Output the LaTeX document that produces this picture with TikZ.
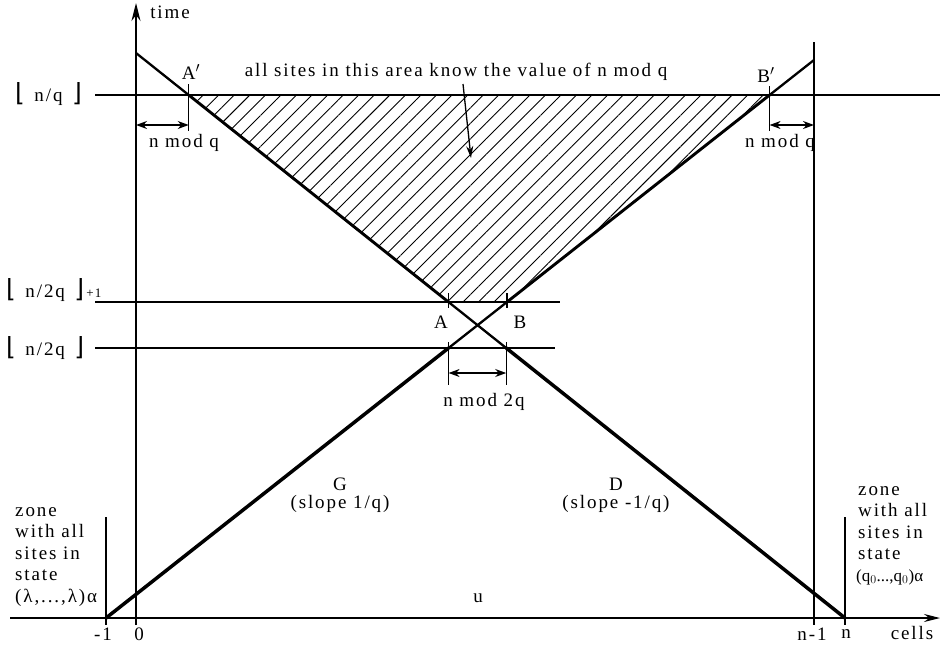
\documentclass[tikz,border=0pt]{standalone}
\usepackage{fontspec}
\setmainfont{Liberation Serif}[LetterSpace=10]
\newfontfamily\djv{DejaVu Sans}
\usetikzlibrary{arrows.meta,patterns.meta}
\newcommand{\lfl}{{\djv\fontsize{25}{25}\selectfont ⌊}}
\newcommand{\rfl}{{\djv\fontsize{25}{25}\selectfont ⌋}}
\begin{document}
\begin{tikzpicture}[x=1pt,y=-1pt,
  thinline/.style={line width=1.3pt},
  medline/.style={line width=2.3pt},
  boldline/.style={line width=2.9pt},
  heavyline/.style={line width=3.5pt},
  dimarrow/.style={line width=1.3pt,{Stealth[length=11pt,width=8pt]}-{Stealth[length=11pt,width=8pt]}},
  lbl/.style={font=\fontsize{19}{22}\selectfont, inner sep=0pt},
  zonetxt/.style={font=\fontsize{19}{22}\selectfont, inner sep=0pt, anchor=base west}
]
\useasboundingbox (0,0) rectangle (948,656);
% key points
\coordinate (Dtop) at (136,53);
\coordinate (Dbot) at (845,618);
\coordinate (Gbot) at (106,618);
\coordinate (Gtop) at (814,60);
\coordinate (Ap) at (188.7,95);
\coordinate (Bp) at (769.6,95);
\coordinate (A) at (448.5,302);
\coordinate (B) at (507,302);
\coordinate (A2) at (448.6,348);
\coordinate (B2) at (506.2,348);
% hatched area
\fill[pattern={Lines[angle=45,distance=11pt,line width=0.9pt]}] (Ap) -- (Bp) -- (B) -- (A) -- cycle;
% axes
\draw[thinline,-{Stealth[length=16pt,width=8pt]}] (10,618) -- (940,618);
\draw[thinline,-{Stealth[length=18pt,width=9pt]}] (136,625) -- (136,3);
\draw[boldline] (136,618) -- (814,618);
\draw[thinline] (106,517) -- (106,625);
\draw[thinline] (814,42) -- (814,625);
\draw[thinline] (845,517) -- (845,625);
% horizontal levels
\draw[thinline] (95,95) -- (940,95);
\draw[thinline] (95,302) -- (560,302);
\draw[thinline] (95,348) -- (555,348);
\draw[boldline] (Ap) -- (Bp);
\draw[medline] (A) -- (B);
% D line
\draw[medline] (Dtop) -- (Ap);
\draw[boldline] (Ap) -- (A);
\draw[medline] (A) -- (B2);
\draw[heavyline] (B2) -- (Dbot);
% G line
\draw[heavyline] (Gbot) -- (A2);
\draw[medline] (A2) -- (B);
\draw[boldline] (B) -- (Bp);
\draw[medline] (Bp) -- (Gtop);
% ticks
\draw[thinline] (188.7,84) -- (188.7,131);
\draw[thinline] (769.6,86) -- (769.6,131);
\draw[thinline] (448.5,293) -- (448.5,308);
\draw[thinline] (507,293) -- (507,308);
\draw[thinline] (448.6,342) -- (448.6,385);
\draw[thinline] (506.2,342) -- (506.2,385);
% dimension arrows
\draw[dimarrow] (136,125) -- (188.7,125);
\draw[dimarrow] (769.6,125) -- (814,125);
\draw[dimarrow] (448.6,373) -- (506.2,373);
% labels
\node[lbl] (time) at (170,12) {time};
\node[lbl] (lAp) at (191,72) {A$'$};
\node[lbl] (lBp) at (766,75) {B$'$};
\node[lbl] (note) at (456,72) {all sites in this area know the value of n mod q};
\draw[thinline,-{Stealth[length=12pt,width=7pt]}] (463,84) -- (471,158);
\node[lbl] (mq1) at (184,143) {n mod q};
\node[lbl] (mq2) at (780,143) {n mod q};
\node[lbl] (lA) at (441,322) {A};
\node[lbl] (lB) at (520,322) {B};
\node[lbl] (m2q) at (484,402) {n mod 2q};
\node[lbl,anchor=base west] (fnq) at (15,101) {\lfl\enspace n/q\enspace\rfl};
\node[lbl,anchor=base west] (fn2q1) at (6,297) {\lfl\enspace n/2q\enspace\rfl{\fontsize{13}{15}\selectfont\,+1}};
\node[lbl,anchor=base west] (fn2q) at (6,355) {\lfl\enspace n/2q\enspace\rfl};
\node[lbl] (lG) at (340,484) {G};
\node[lbl] (sG) at (340,504) {(slope 1/q)};
\node[lbl] (lD) at (616,484) {D};
\node[lbl] (sD) at (616,504) {(slope -1/q)};
\node[lbl] (lu) at (478,598) {u};
% zone texts
\node[zonetxt] (zl1) at (15,516) {zone};
\node[zonetxt] (zl2) at (15,537.5) {with all};
\node[zonetxt] (zl3) at (15,559) {sites in};
\node[zonetxt] (zl4) at (15,580.5) {state};
\node[zonetxt] (zl5) at (15,602) {(λ,...,λ)α};
\node[zonetxt] (zr1) at (858,495) {zone};
\node[zonetxt] (zr2) at (858,516.5) {with all};
\node[zonetxt] (zr3) at (858,538) {sites in};
\node[zonetxt] (zr4) at (858,559.5) {state};
\node[zonetxt,font=\fontsize{17}{20}\selectfont\addfontfeature{LetterSpace=0}] (zr5) at (856,581) {(q$_0$...,q$_0$)α};
% axis labels
\node[lbl] (tm1) at (103,634) {-1};
\node[lbl] (t0) at (139,634) {0};
\node[lbl] (tn1) at (812,634) {n-1};
\node[lbl] (tn) at (846,634) {n};
\node[lbl] (cells) at (912,633) {cells};
\end{tikzpicture}
\end{document}
